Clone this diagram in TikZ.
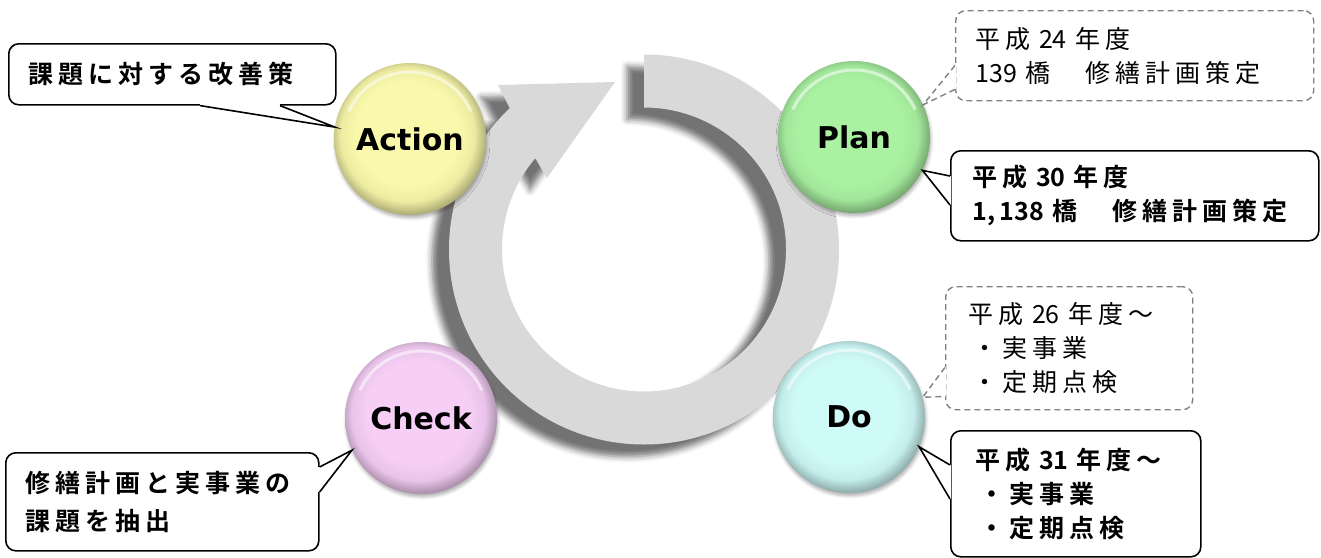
\documentclass[tikz,border=0pt]{standalone}
\usepackage{fontspec}
\usetikzlibrary{shadows.blur}

\newfontfamily\jpfont{Noto Sans CJK JP}[LetterSpace=20,BoldFont={Noto Sans CJK JP Bold}]
\newfontfamily\jpnumfont{Noto Sans CJK JP}[BoldFont={Noto Sans CJK JP Bold}]
\newfontfamily\pdcafont{DejaVu Sans}

% figures in the notes are set without the letter spacing
\newcommand{\nb}[1]{{\jpnumfont#1}}

\definecolor{actfill}{RGB}{250,248,170}
\definecolor{planfill}{RGB}{170,242,162}
\definecolor{chkfill}{RGB}{246,206,246}
\definecolor{dofill}{RGB}{206,250,248}
\definecolor{ringgray}{RGB}{217,217,217}
\definecolor{memogray}{RGB}{128,128,128}

% flat ball with a darker rim, colour taken from ballc when used
\colorlet{ballc}{white}
\pgfdeclareradialshading[ballc]{glossy}{\pgfpoint{-1.5bp}{2.5bp}}{%
  color(0bp)=(ballc); color(17bp)=(ballc); color(22bp)=(ballc!95!black);
  color(25bp)=(ballc!76!black); color(28bp)=(ballc!58!black);
  color(50bp)=(ballc!58!black)}

% tail of a callout: white gap in the border, then the two sides
\newcommand{\calltail}[4][]{
  \fill[white] (#2) -- (#3) -- (#4) -- cycle;
  \draw[white, line width=2.6pt] (#2) -- (#4);
  \draw[#1] (#2) -- (#3) -- (#4);
}

\begin{document}
\begin{tikzpicture}[
  x=1pt,
  y=-1pt,
  ball/.style={
    circle,
    minimum size=152pt,
    inner sep=0pt,
    /utils/exec={\colorlet{ballc}{#1}},
    shading=glossy,
    blur shadow={shadow xshift=1pt, shadow yshift=-3pt,
      shadow opacity=30, shadow blur radius=3pt},
    path picture={
      \draw[white, opacity=.55, line width=3pt, line cap=round]
        (path picture bounding box.center) ++(-155:67)
        arc[start angle=-155, end angle=-25, radius=67];
    },
    font={\pdcafont\bfseries\fontsize{30}{36}\selectfont},
  },
  ring/.style={
    fill=ringgray,
    blur shadow={shadow xshift=-17pt, shadow yshift=-12pt,
      shadow opacity=55, shadow blur radius=6pt},
  },
  box/.style={
    anchor=north west,
    rounded corners=10pt,
    fill=white,
    align=left,
    inner sep=0pt,
    font={\jpfont\fontsize{25}{34}\selectfont},
  },
  note/.style={
    box,
    draw=black,
    line width=1.6pt,
    font={\jpfont\bfseries\fontsize{25}{34}\selectfont},
  },
  memo/.style={
    box,
    draw=memogray,
    line width=1.4pt,
    dash pattern=on 6pt off 4pt,
  },
  note line/.style={
    draw=black,
    line width=1.6pt,
    line join=miter,
  },
  memo line/.style={
    draw=memogray,
    line width=1.4pt,
    dash pattern=on 6pt off 4pt,
  },
]
  \useasboundingbox (0,0) rectangle (1321,557);

  %%%%%%%%%%%%%%%%%%%% cycle arrow %%%%%%%%%%%%%%%%%%%%

  \coordinate (hub) at (644,249.5);

  \fill[ring] (hub) ++(270:195)
    arc[start angle=270, end angle=586.5, radius=195]
    -- (498,85) -- (615,82) -- (547,178)
    -- ([shift={(580:142)}]hub)
    arc[start angle=580, end angle=270, radius=142]
    -- cycle;

  %%%%%%%%%%%%%%%%%%%% PDCA balls %%%%%%%%%%%%%%%%%%%%

  \node[ball=actfill] (action) at (410,139) {Action};
  \node[ball=planfill] (plan) at (854,137) {Plan};
  \node[ball=chkfill] (check) at (421,418) {Check};
  \node[ball=dofill] (do) at (849,417) {Do};

  %%%%%%%%%%%%%%%%%%%% callouts %%%%%%%%%%%%%%%%%%%%

  \node[note, minimum width=327pt, minimum height=61pt, text width=287pt]
    (act-note) at (8,43) {課題に対する改善策};
  \calltail[note line]{[xshift=192pt]act-note.south west}{action.171}
    {[xshift=272pt]act-note.south west}

  \node[memo, minimum width=358pt, minimum height=90pt, text width=318pt]
    (plan-memo) at (955,10) {平成 \nb{24} 年度\\\nb{139} 橋　修繕計画策定};
  \calltail[memo line]{[yshift=36pt]plan-memo.south west}{plan.25}
    {[yshift=12pt]plan-memo.south west}

  \node[note, minimum width=368pt, minimum height=90pt, text width=324pt]
    (plan-note) at (950,150) {平成 \nb{30} 年度\\\nb{1,\,138} 橋　修繕計画策定};
  \calltail[note line]{[yshift=-26pt]plan-note.north west}{plan.-26}
    {[yshift=-55pt]plan-note.north west}

  \node[memo, minimum width=247pt, minimum height=123pt, text width=201pt]
    (do-memo) at (945,286)
    {平成 \nb{26} 年度～\\\hspace{4pt}・実事業\\\hspace{4pt}・定期点検};
  \calltail[memo line]{[yshift=43pt]do-memo.south west}{do.15}
    {[yshift=14pt]do-memo.south west}

  \node[note, minimum width=250pt, minimum height=126pt, text width=200pt]
    (do-note) at (950,430)
    {平成 \nb{31} 年度～\\\hspace{4pt}・実事業\\\hspace{4pt}・定期点検};
  \calltail[note line]{[yshift=-35pt]do-note.north west}{do.-23}
    {[yshift=-69pt]do-note.north west}

  \node[note, minimum width=313pt, minimum height=98pt, text width=273pt,
    font={\jpfont\bfseries\fontsize{25}{38}\selectfont}] (chk-note)
    at (5,452) {修繕計画と実事業の\\課題を抽出};
  \calltail[note line]{[yshift=-15pt]chk-note.north east}{check.205}
    {[yshift=-40pt]chk-note.north east}
\end{tikzpicture}
\end{document}
